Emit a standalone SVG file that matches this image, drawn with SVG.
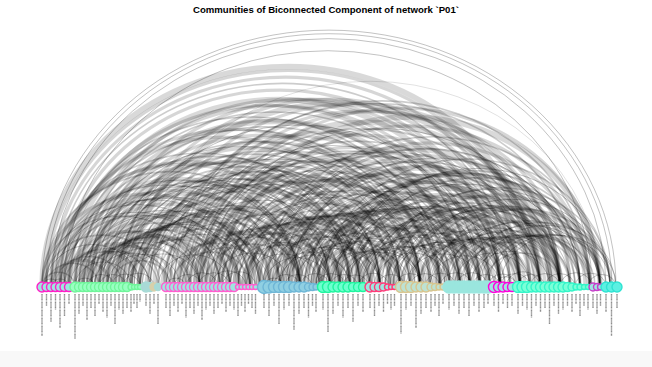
<svg xmlns="http://www.w3.org/2000/svg" width="652" height="367" viewBox="0 0 652 367">
<style>
text{font-family:"Liberation Sans",Arial,sans-serif}
.title{font-size:9.6px;font-weight:bold;fill:#000}
#arcs{fill:none;stroke:#000}
.t1{stroke-width:.8;stroke-opacity:.3}
.t2{stroke-width:1.6;stroke-opacity:.2}
.t3{stroke-width:3.2;stroke-opacity:.16}
.t4{stroke-width:5.5;stroke-opacity:.15}
#nodes path{fill:none;stroke:#8f8f8f;stroke-width:1.4;stroke-dasharray:1.2 .4}
#nodes circle{stroke-width:1.4}
.cA circle{fill:#9ee6e0;stroke:#ff1fc8}
.cB circle{fill:#99ffc2;stroke:#70f59a}
.cC circle{fill:#a8dad6;stroke:#a8dad6}
.cD circle{fill:#9ee6e0;stroke:#ff5fcf}
.cE circle{fill:#8fcfe2;stroke:#6eb6d6}
.cF circle{fill:#6dffcf;stroke:#1ff59e}
.cG circle{fill:#9ee6e0;stroke:#ff3a78}
.cH circle{fill:#bde2d2;stroke:#d8c58e}
.cI circle{fill:#9ae6de;stroke:#9ae6de}
.cJ circle{fill:#9ee6e0;stroke:#ff00dc}
.cK circle{fill:#7affd8;stroke:#33f5c8}
.cL circle{fill:#9ee6e0;stroke:#c83cc8}
.cM circle{fill:#5cf0e2;stroke:#2fe3d2}
</style>
<rect x="0" y="0" width="652" height="351" fill="#fff"/>
<rect x="0" y="351" width="652" height="16" fill="#f8f8f8"/>
<text class="title" x="326" y="12.5" text-anchor="middle">Communities of Biconnected Component of network `P01`</text>
<g id="arcs">
<g class="t1">
<path d="M42 287A1 .895 0 0 1 616 287"/><path d="M46 287A1 .895 0 0 1 612 287"/><path d="M51 287A1 .895 0 0 1 606 287"/><path d="M64 287A1 .895 0 0 1 592 287"/><path d="M140 287A1 .895 0 0 1 600 287" stroke-opacity=".15"/><path d="M99 287A1 .895 0 0 1 200 287"/><path d="M107 287A1 .895 0 0 1 180 287"/><path d="M230 287A1 .895 0 0 1 430 287"/><path d="M250 287A1 .895 0 0 1 380 287"/><path d="M308 287A1 .895 0 0 1 490 287"/><path d="M345 287A1 .895 0 0 1 610 287"/><path d="M75 287A1 .895 0 0 1 131 287"/><path d="M137 287A1 .895 0 0 1 312 287"/><path d="M264 287A1 .895 0 0 1 330 287"/><path d="M280 287A1 .895 0 0 1 369 287"/><path d="M296 287A1 .895 0 0 1 395 287"/><path d="M316 287A1 .895 0 0 1 420 287"/><path d="M330 287A1 .895 0 0 1 410 287"/><path d="M346 287A1 .895 0 0 1 433 287"/><path d="M362 287A1 .895 0 0 1 452 287"/><path d="M377 287A1 .895 0 0 1 470 287"/><path d="M393 287A1 .895 0 0 1 494 287"/><path d="M494 287A1 .895 0 0 1 611 287"/><path d="M500 287A1 .895 0 0 1 616 287"/><path d="M46 287A1 .895 0 0 1 230 287"/><path d="M64 287A1 .895 0 0 1 262 287"/><path d="M91 287A1 .895 0 0 1 330 287"/><path d="M123 287A1 .895 0 0 1 380 287"/><path d="M150 287A1 .895 0 0 1 420 287"/>
<path d="M42 287A1 .895 0 0 1 60 287"/><path d="M51 287A1 .895 0 0 1 69 287"/><path d="M75 287A1 .895 0 0 1 95 287"/><path d="M87 287A1 .895 0 0 1 115 287"/><path d="M99 287A1 .895 0 0 1 127 287"/><path d="M111 287A1 .895 0 0 1 140 287"/><path d="M123 287A1 .895 0 0 1 154 287"/><path d="M166 287A1 .895 0 0 1 186 287"/><path d="M174 287A1 .895 0 0 1 202 287"/><path d="M186 287A1 .895 0 0 1 218 287"/><path d="M198 287A1 .895 0 0 1 230 287"/><path d="M210 287A1 .895 0 0 1 246 287"/><path d="M222 287A1 .895 0 0 1 256 287"/><path d="M264 287A1 .895 0 0 1 284 287"/><path d="M272 287A1 .895 0 0 1 300 287"/><path d="M284 287A1 .895 0 0 1 312 287"/><path d="M300 287A1 .895 0 0 1 330 287"/><path d="M316 287A1 .895 0 0 1 346 287"/><path d="M330 287A1 .895 0 0 1 358 287"/><path d="M342 287A1 .895 0 0 1 369 287"/><path d="M358 287A1 .895 0 0 1 389 287"/><path d="M377 287A1 .895 0 0 1 405 287"/><path d="M395 287A1 .895 0 0 1 425 287"/><path d="M410 287A1 .895 0 0 1 440 287"/><path d="M425 287A1 .895 0 0 1 456 287"/><path d="M440 287A1 .895 0 0 1 472 287"/><path d="M456 287A1 .895 0 0 1 488 287"/><path d="M472 287A1 .895 0 0 1 500 287"/><path d="M488 287A1 .895 0 0 1 517 287"/><path d="M500 287A1 .895 0 0 1 530 287"/><path d="M517 287A1 .895 0 0 1 545 287"/><path d="M530 287A1 .895 0 0 1 560 287"/><path d="M545 287A1 .895 0 0 1 575 287"/><path d="M560 287A1 .895 0 0 1 592 287"/><path d="M575 287A1 .895 0 0 1 606 287"/><path d="M588 287A1 .895 0 0 1 616 287"/><path d="M494 287A1 .895 0 0 1 517 287"/><path d="M506 287A1 .895 0 0 1 540 287"/>
<path d="M45 287A1 .895 0 0 1 140 287"/><path d="M53 287A1 .895 0 0 1 220 287"/><path d="M61 287A1 .895 0 0 1 300 287"/><path d="M70 287A1 .895 0 0 1 150 287"/><path d="M78 287A1 .895 0 0 1 240 287"/><path d="M86 287A1 .895 0 0 1 400 287"/><path d="M94 287A1 .895 0 0 1 170 287"/><path d="M102 287A1 .895 0 0 1 330 287"/><path d="M110 287A1 .895 0 0 1 250 287"/><path d="M118 287A1 .895 0 0 1 480 287"/><path d="M126 287A1 .895 0 0 1 200 287"/><path d="M134 287A1 .895 0 0 1 420 287"/><path d="M142 287A1 .895 0 0 1 260 287"/><path d="M150 287A1 .895 0 0 1 380 287"/><path d="M158 287A1 .895 0 0 1 230 287"/><path d="M166 287A1 .895 0 0 1 360 287"/><path d="M174 287A1 .895 0 0 1 490 287"/><path d="M182 287A1 .895 0 0 1 270 287"/><path d="M190 287A1 .895 0 0 1 450 287"/><path d="M198 287A1 .895 0 0 1 310 287"/><path d="M206 287A1 .895 0 0 1 560 287"/><path d="M214 287A1 .895 0 0 1 290 287"/><path d="M222 287A1 .895 0 0 1 410 287"/><path d="M230 287A1 .895 0 0 1 330 287"/><path d="M238 287A1 .895 0 0 1 540 287"/><path d="M246 287A1 .895 0 0 1 320 287"/><path d="M254 287A1 .895 0 0 1 460 287"/><path d="M262 287A1 .895 0 0 1 370 287"/><path d="M270 287A1 .895 0 0 1 580 287"/><path d="M278 287A1 .895 0 0 1 350 287"/><path d="M286 287A1 .895 0 0 1 500 287"/><path d="M294 287A1 .895 0 0 1 380 287"/><path d="M310 287A1 .895 0 0 1 420 287"/><path d="M318 287A1 .895 0 0 1 550 287"/><path d="M326 287A1 .895 0 0 1 440 287"/><path d="M334 287A1 .895 0 0 1 510 287"/><path d="M342 287A1 .895 0 0 1 420 287"/><path d="M350 287A1 .895 0 0 1 580 287"/><path d="M358 287A1 .895 0 0 1 470 287"/><path d="M366 287A1 .895 0 0 1 540 287"/><path d="M374 287A1 .895 0 0 1 450 287"/><path d="M382 287A1 .895 0 0 1 600 287"/><path d="M390 287A1 .895 0 0 1 490 287"/><path d="M398 287A1 .895 0 0 1 570 287"/><path d="M406 287A1 .895 0 0 1 480 287"/><path d="M414 287A1 .895 0 0 1 610 287"/><path d="M422 287A1 .895 0 0 1 530 287"/><path d="M430 287A1 .895 0 0 1 500 287"/><path d="M438 287A1 .895 0 0 1 560 287"/><path d="M446 287A1 .895 0 0 1 590 287"/><path d="M454 287A1 .895 0 0 1 530 287"/><path d="M462 287A1 .895 0 0 1 600 287"/><path d="M470 287A1 .895 0 0 1 550 287"/><path d="M478 287A1 .895 0 0 1 616 287"/>
</g>
<g class="t2">
<path d="M55 287A1 .895 0 0 1 510 287"/><path d="M79 287A1 .895 0 0 1 470 287"/><path d="M87 287A1 .895 0 0 1 445 287"/><path d="M95 287A1 .895 0 0 1 420 287"/><path d="M103 287A1 .895 0 0 1 400 287"/><path d="M111 287A1 .895 0 0 1 380 287"/><path d="M119 287A1 .895 0 0 1 360 287"/><path d="M127 287A1 .895 0 0 1 340 287"/><path d="M69 287A1 .895 0 0 1 420 287"/><path d="M60 287A1 .895 0 0 1 440 287"/><path d="M51 287A1 .895 0 0 1 350 287"/><path d="M42 287A1 .895 0 0 1 300 287"/><path d="M69 287A1 .895 0 0 1 270 287"/><path d="M79 287A1 .895 0 0 1 250 287"/><path d="M87 287A1 .895 0 0 1 230 287"/><path d="M91 287A1 .895 0 0 1 220 287"/><path d="M103 287A1 .895 0 0 1 190 287"/><path d="M111 287A1 .895 0 0 1 170 287"/><path d="M170 287A1 .895 0 0 1 580 287"/><path d="M174 287A1 .895 0 0 1 590 287"/><path d="M186 287A1 .895 0 0 1 540 287"/><path d="M194 287A1 .895 0 0 1 520 287"/><path d="M202 287A1 .895 0 0 1 500 287"/><path d="M210 287A1 .895 0 0 1 480 287"/><path d="M218 287A1 .895 0 0 1 460 287"/><path d="M226 287A1 .895 0 0 1 440 287"/><path d="M238 287A1 .895 0 0 1 410 287"/><path d="M242 287A1 .895 0 0 1 400 287"/><path d="M264 287A1 .895 0 0 1 600 287"/><path d="M272 287A1 .895 0 0 1 580 287"/><path d="M280 287A1 .895 0 0 1 560 287"/><path d="M288 287A1 .895 0 0 1 540 287"/><path d="M296 287A1 .895 0 0 1 520 287"/><path d="M304 287A1 .895 0 0 1 500 287"/><path d="M316 287A1 .895 0 0 1 470 287"/><path d="M326 287A1 .895 0 0 1 575 287"/><path d="M342 287A1 .895 0 0 1 535 287"/><path d="M354 287A1 .895 0 0 1 505 287"/><path d="M362 287A1 .895 0 0 1 485 287"/><path d="M340 287A1 .895 0 0 1 600 287"/><path d="M335 287A1 .895 0 0 1 590 287"/>
<path d="M42 287A1 .895 0 0 1 75 287"/><path d="M46 287A1 .895 0 0 1 99 287"/><path d="M55 287A1 .895 0 0 1 123 287"/><path d="M64 287A1 .895 0 0 1 150 287"/><path d="M79 287A1 .895 0 0 1 158 287"/><path d="M87 287A1 .895 0 0 1 186 287"/><path d="M95 287A1 .895 0 0 1 206 287"/><path d="M103 287A1 .895 0 0 1 230 287"/><path d="M111 287A1 .895 0 0 1 246 287"/><path d="M119 287A1 .895 0 0 1 264 287"/><path d="M127 287A1 .895 0 0 1 284 287"/><path d="M134 287A1 .895 0 0 1 304 287"/><path d="M140 287A1 .895 0 0 1 322 287"/><path d="M166 287A1 .895 0 0 1 264 287"/><path d="M182 287A1 .895 0 0 1 300 287"/><path d="M198 287A1 .895 0 0 1 330 287"/><path d="M214 287A1 .895 0 0 1 354 287"/><path d="M230 287A1 .895 0 0 1 375 287"/><path d="M238 287A1 .895 0 0 1 390 287"/><path d="M256 287A1 .895 0 0 1 415 287"/><path d="M272 287A1 .895 0 0 1 437 287"/><path d="M288 287A1 .895 0 0 1 458 287"/><path d="M304 287A1 .895 0 0 1 478 287"/><path d="M272 287A1 .895 0 0 1 350 287"/><path d="M288 287A1 .895 0 0 1 380 287"/><path d="M304 287A1 .895 0 0 1 405 287"/><path d="M322 287A1 .895 0 0 1 400 287"/><path d="M338 287A1 .895 0 0 1 422 287"/><path d="M354 287A1 .895 0 0 1 445 287"/><path d="M369 287A1 .895 0 0 1 460 287"/><path d="M385 287A1 .895 0 0 1 480 287"/><path d="M400 287A1 .895 0 0 1 505 287"/><path d="M410 287A1 .895 0 0 1 517 287"/><path d="M430 287A1 .895 0 0 1 540 287"/><path d="M448 287A1 .895 0 0 1 560 287"/><path d="M464 287A1 .895 0 0 1 580 287"/><path d="M480 287A1 .895 0 0 1 595 287"/><path d="M488 287A1 .895 0 0 1 606 287"/><path d="M369 287A1 .895 0 0 1 540 287"/><path d="M385 287A1 .895 0 0 1 563 287"/><path d="M393 287A1 .895 0 0 1 575 287"/><path d="M42 287A1 .895 0 0 1 200 287"/><path d="M55 287A1 .895 0 0 1 250 287"/><path d="M75 287A1 .895 0 0 1 300 287"/><path d="M107 287A1 .895 0 0 1 350 287"/><path d="M140 287A1 .895 0 0 1 400 287"/><path d="M158 287A1 .895 0 0 1 440 287"/>
<path d="M44 287A1 .895 0 0 1 160 287"/><path d="M52 287A1 .895 0 0 1 280 287"/><path d="M60 287A1 .895 0 0 1 220 287"/><path d="M68 287A1 .895 0 0 1 360 287"/><path d="M76 287A1 .895 0 0 1 200 287"/><path d="M84 287A1 .895 0 0 1 320 287"/><path d="M92 287A1 .895 0 0 1 260 287"/><path d="M100 287A1 .895 0 0 1 380 287"/><path d="M108 287A1 .895 0 0 1 280 287"/><path d="M116 287A1 .895 0 0 1 420 287"/><path d="M124 287A1 .895 0 0 1 230 287"/><path d="M132 287A1 .895 0 0 1 360 287"/><path d="M140 287A1 .895 0 0 1 270 287"/><path d="M148 287A1 .895 0 0 1 450 287"/><path d="M156 287A1 .895 0 0 1 300 287"/><path d="M164 287A1 .895 0 0 1 400 287"/><path d="M172 287A1 .895 0 0 1 250 287"/><path d="M180 287A1 .895 0 0 1 460 287"/><path d="M188 287A1 .895 0 0 1 350 287"/><path d="M196 287A1 .895 0 0 1 500 287"/><path d="M204 287A1 .895 0 0 1 300 287"/><path d="M212 287A1 .895 0 0 1 420 287"/><path d="M220 287A1 .895 0 0 1 340 287"/><path d="M228 287A1 .895 0 0 1 520 287"/><path d="M236 287A1 .895 0 0 1 330 287"/><path d="M244 287A1 .895 0 0 1 460 287"/><path d="M252 287A1 .895 0 0 1 370 287"/><path d="M260 287A1 .895 0 0 1 540 287"/><path d="M268 287A1 .895 0 0 1 380 287"/><path d="M276 287A1 .895 0 0 1 490 287"/><path d="M284 287A1 .895 0 0 1 400 287"/><path d="M292 287A1 .895 0 0 1 580 287"/><path d="M300 287A1 .895 0 0 1 420 287"/><path d="M308 287A1 .895 0 0 1 560 287"/><path d="M316 287A1 .895 0 0 1 450 287"/><path d="M324 287A1 .895 0 0 1 610 287"/><path d="M332 287A1 .895 0 0 1 470 287"/><path d="M340 287A1 .895 0 0 1 520 287"/><path d="M348 287A1 .895 0 0 1 450 287"/><path d="M356 287A1 .895 0 0 1 600 287"/><path d="M364 287A1 .895 0 0 1 480 287"/><path d="M372 287A1 .895 0 0 1 560 287"/><path d="M380 287A1 .895 0 0 1 500 287"/><path d="M388 287A1 .895 0 0 1 610 287"/><path d="M396 287A1 .895 0 0 1 520 287"/><path d="M404 287A1 .895 0 0 1 580 287"/><path d="M412 287A1 .895 0 0 1 540 287"/><path d="M420 287A1 .895 0 0 1 600 287"/><path d="M428 287A1 .895 0 0 1 560 287"/><path d="M436 287A1 .895 0 0 1 610 287"/><path d="M444 287A1 .895 0 0 1 570 287"/><path d="M452 287A1 .895 0 0 1 600 287"/><path d="M460 287A1 .895 0 0 1 560 287"/><path d="M468 287A1 .895 0 0 1 612 287"/><path d="M476 287A1 .895 0 0 1 590 287"/><path d="M484 287A1 .895 0 0 1 560 287"/>
</g>
<g class="t3">
<path d="M46 287A1 .895 0 0 1 530 287"/><path d="M51 287A1 .895 0 0 1 520 287"/><path d="M60 287A1 .895 0 0 1 500 287"/><path d="M75 287A1 .895 0 0 1 480 287"/><path d="M83 287A1 .895 0 0 1 455 287"/><path d="M91 287A1 .895 0 0 1 430 287"/><path d="M99 287A1 .895 0 0 1 410 287"/><path d="M107 287A1 .895 0 0 1 392 287"/><path d="M123 287A1 .895 0 0 1 350 287"/><path d="M131 287A1 .895 0 0 1 330 287"/><path d="M64 287A1 .895 0 0 1 470 287"/><path d="M55 287A1 .895 0 0 1 390 287"/><path d="M46 287A1 .895 0 0 1 320 287"/><path d="M64 287A1 .895 0 0 1 280 287"/><path d="M75 287A1 .895 0 0 1 260 287"/><path d="M83 287A1 .895 0 0 1 240 287"/><path d="M95 287A1 .895 0 0 1 210 287"/><path d="M166 287A1 .895 0 0 1 560 287"/><path d="M178 287A1 .895 0 0 1 570 287"/><path d="M190 287A1 .895 0 0 1 530 287"/><path d="M198 287A1 .895 0 0 1 510 287"/><path d="M206 287A1 .895 0 0 1 490 287"/><path d="M214 287A1 .895 0 0 1 470 287"/><path d="M222 287A1 .895 0 0 1 450 287"/><path d="M234 287A1 .895 0 0 1 420 287"/><path d="M246 287A1 .895 0 0 1 390 287"/><path d="M268 287A1 .895 0 0 1 590 287"/><path d="M276 287A1 .895 0 0 1 570 287"/><path d="M292 287A1 .895 0 0 1 530 287"/><path d="M300 287A1 .895 0 0 1 510 287"/><path d="M312 287A1 .895 0 0 1 480 287"/><path d="M322 287A1 .895 0 0 1 560 287"/><path d="M330 287A1 .895 0 0 1 585 287"/><path d="M338 287A1 .895 0 0 1 545 287"/><path d="M346 287A1 .895 0 0 1 525 287"/><path d="M350 287A1 .895 0 0 1 515 287"/><path d="M358 287A1 .895 0 0 1 495 287"/>
<path d="M51 287A1 .895 0 0 1 111 287"/><path d="M60 287A1 .895 0 0 1 140 287"/><path d="M69 287A1 .895 0 0 1 166 287"/><path d="M83 287A1 .895 0 0 1 174 287"/><path d="M91 287A1 .895 0 0 1 198 287"/><path d="M99 287A1 .895 0 0 1 214 287"/><path d="M107 287A1 .895 0 0 1 238 287"/><path d="M115 287A1 .895 0 0 1 256 287"/><path d="M123 287A1 .895 0 0 1 272 287"/><path d="M131 287A1 .895 0 0 1 296 287"/><path d="M174 287A1 .895 0 0 1 280 287"/><path d="M190 287A1 .895 0 0 1 316 287"/><path d="M206 287A1 .895 0 0 1 342 287"/><path d="M222 287A1 .895 0 0 1 364 287"/><path d="M246 287A1 .895 0 0 1 402 287"/><path d="M264 287A1 .895 0 0 1 425 287"/><path d="M280 287A1 .895 0 0 1 448 287"/><path d="M296 287A1 .895 0 0 1 468 287"/><path d="M312 287A1 .895 0 0 1 488 287"/><path d="M420 287A1 .895 0 0 1 530 287"/><path d="M440 287A1 .895 0 0 1 550 287"/><path d="M456 287A1 .895 0 0 1 570 287"/><path d="M472 287A1 .895 0 0 1 588 287"/><path d="M377 287A1 .895 0 0 1 552 287"/>
<path d="M42 287A1 .895 0 0 1 250 287"/><path d="M50 287A1 .895 0 0 1 330 287"/><path d="M58 287A1 .895 0 0 1 410 287"/><path d="M66 287A1 .895 0 0 1 190 287"/><path d="M74 287A1 .895 0 0 1 350 287"/><path d="M82 287A1 .895 0 0 1 290 287"/><path d="M90 287A1 .895 0 0 1 370 287"/><path d="M98 287A1 .895 0 0 1 260 287"/><path d="M106 287A1 .895 0 0 1 430 287"/><path d="M114 287A1 .895 0 0 1 300 287"/><path d="M122 287A1 .895 0 0 1 460 287"/><path d="M130 287A1 .895 0 0 1 240 287"/><path d="M138 287A1 .895 0 0 1 380 287"/><path d="M146 287A1 .895 0 0 1 320 287"/><path d="M154 287A1 .895 0 0 1 500 287"/><path d="M162 287A1 .895 0 0 1 340 287"/><path d="M170 287A1 .895 0 0 1 420 287"/><path d="M178 287A1 .895 0 0 1 300 287"/><path d="M186 287A1 .895 0 0 1 470 287"/><path d="M194 287A1 .895 0 0 1 360 287"/><path d="M202 287A1 .895 0 0 1 440 287"/><path d="M210 287A1 .895 0 0 1 330 287"/><path d="M218 287A1 .895 0 0 1 520 287"/><path d="M226 287A1 .895 0 0 1 380 287"/><path d="M234 287A1 .895 0 0 1 480 287"/><path d="M242 287A1 .895 0 0 1 340 287"/><path d="M250 287A1 .895 0 0 1 500 287"/><path d="M258 287A1 .895 0 0 1 420 287"/><path d="M266 287A1 .895 0 0 1 520 287"/><path d="M274 287A1 .895 0 0 1 400 287"/><path d="M282 287A1 .895 0 0 1 470 287"/><path d="M290 287A1 .895 0 0 1 560 287"/><path d="M298 287A1 .895 0 0 1 440 287"/><path d="M306 287A1 .895 0 0 1 540 287"/><path d="M314 287A1 .895 0 0 1 400 287"/><path d="M322 287A1 .895 0 0 1 500 287"/><path d="M330 287A1 .895 0 0 1 460 287"/><path d="M338 287A1 .895 0 0 1 590 287"/><path d="M346 287A1 .895 0 0 1 480 287"/><path d="M354 287A1 .895 0 0 1 560 287"/><path d="M362 287A1 .895 0 0 1 520 287"/><path d="M370 287A1 .895 0 0 1 500 287"/><path d="M378 287A1 .895 0 0 1 580 287"/><path d="M386 287A1 .895 0 0 1 540 287"/><path d="M394 287A1 .895 0 0 1 600 287"/><path d="M402 287A1 .895 0 0 1 560 287"/><path d="M410 287A1 .895 0 0 1 590 287"/><path d="M418 287A1 .895 0 0 1 520 287"/><path d="M426 287A1 .895 0 0 1 600 287"/><path d="M434 287A1 .895 0 0 1 580 287"/>
<path d="M100 287A1 .895 0 0 1 520 287"/><path d="M150 287A1 .895 0 0 1 560 287"/><path d="M80 287A1 .895 0 0 1 500 287"/><path d="M200 287A1 .895 0 0 1 600 287"/><path d="M120 287A1 .895 0 0 1 540 287"/><path d="M230 287A1 .895 0 0 1 590 287"/>
</g>
<g class="t4">
<path d="M42 287A1 .895 0 0 1 535 287"/><path d="M69 287A1 .895 0 0 1 488 287"/><path d="M115 287A1 .895 0 0 1 370 287"/><path d="M182 287A1 .895 0 0 1 550 287"/><path d="M284 287A1 .895 0 0 1 550 287"/><path d="M334 287A1 .895 0 0 1 555 287"/><path d="M60 287A1 .895 0 0 1 300 287"/><path d="M200 287A1 .895 0 0 1 440 287"/><path d="M250 287A1 .895 0 0 1 560 287"/><path d="M90 287A1 .895 0 0 1 460 287"/><path d="M320 287A1 .895 0 0 1 520 287"/><path d="M140 287A1 .895 0 0 1 360 287"/><path d="M130 287A1 .895 0 0 1 540 287"/><path d="M220 287A1 .895 0 0 1 600 287"/>
</g>
</g>
<g id="nodes">
<g class="cA">
<g id="n1"><circle cx="42" cy="287" r="5"/><path d="M42 294v42"/></g>
<g id="n2"><circle cx="46.5" cy="287" r="4.5"/><path d="M46.5 294v12"/></g>
<g id="n3"><circle cx="51" cy="287" r="4.5"/><path d="M51 294v28"/></g>
<g id="n4"><circle cx="55.5" cy="287" r="4.5"/><path d="M55.5 294v16"/></g>
<g id="n5"><circle cx="60" cy="287" r="4.5"/><path d="M60 294v34"/></g>
<g id="n6"><circle cx="64.5" cy="287" r="4.5"/><path d="M64.5 294v22"/></g>
<g id="n7"><circle cx="69" cy="287" r="4.5"/><path d="M69 294v10"/></g>
</g>
<g class="cB">
<g id="n8"><circle cx="75" cy="287" r="5"/><path d="M75 294v45"/></g>
<g id="n9"><circle cx="79" cy="287" r="4.5"/><path d="M79 294v20"/></g>
<g id="n10"><circle cx="83" cy="287" r="4.5"/><path d="M83 294v12"/></g>
<g id="n11"><circle cx="87" cy="287" r="4.5"/><path d="M87 294v26"/></g>
<g id="n12"><circle cx="91" cy="287" r="4.5"/><path d="M91 294v14"/></g>
<g id="n13"><circle cx="95" cy="287" r="4.5"/><path d="M95 294v22"/></g>
<g id="n14"><circle cx="99" cy="287" r="4.5"/><path d="M99 294v10"/></g>
<g id="n15"><circle cx="103" cy="287" r="4.5"/><path d="M103 294v18"/></g>
<g id="n16"><circle cx="107" cy="287" r="4.5"/><path d="M107 294v24"/></g>
<g id="n17"><circle cx="111" cy="287" r="4.5"/><path d="M111 294v12"/></g>
<g id="n18"><circle cx="115" cy="287" r="4.5"/><path d="M115 294v30"/></g>
<g id="n19"><circle cx="119" cy="287" r="4.5"/><path d="M119 294v16"/></g>
<g id="n20"><circle cx="123" cy="287" r="4.5"/><path d="M123 294v20"/></g>
<g id="n21"><circle cx="127" cy="287" r="4.5"/><path d="M127 294v14"/></g>
<g id="n22"><circle cx="131" cy="287" r="3"/><path d="M131 294v18"/></g>
<g id="n23"><circle cx="134" cy="287" r="2.5"/><path d="M134 294v10"/></g>
<g id="n24"><circle cx="137" cy="287" r="2.5"/><path d="M137 294v14"/></g>
<g id="n25"><circle cx="140" cy="287" r="2.5"/><path d="M140 294v8"/></g>
</g>
<g class="cC">
<g id="n26"><circle cx="146" cy="287" r="5"/><path d="M146 294v12"/></g>
<g id="n27"><circle cx="150" cy="287" r="4.5"/><path d="M150 294v20"/></g>
<g id="n28"><circle cx="154" cy="287" r="4" style="fill:#d8d0aa;stroke:#d8d0aa"/><path d="M154 294v10"/></g>
<g id="n29"><circle cx="158" cy="287" r="3.5"/><path d="M158 294v30"/></g>
</g>
<g class="cD">
<g id="n30"><circle cx="166" cy="287" r="4.5"/><path d="M166 294v14"/></g>
<g id="n31"><circle cx="170" cy="287" r="4.5"/><path d="M170 294v22"/></g>
<g id="n32"><circle cx="174" cy="287" r="4.5"/><path d="M174 294v12"/></g>
<g id="n33"><circle cx="178" cy="287" r="4.5"/><path d="M178 294v18"/></g>
<g id="n34"><circle cx="182" cy="287" r="4.5"/><path d="M182 294v10"/></g>
<g id="n35"><circle cx="186" cy="287" r="4.5"/><path d="M186 294v24"/></g>
<g id="n36"><circle cx="190" cy="287" r="4.5"/><path d="M190 294v14"/></g>
<g id="n37"><circle cx="194" cy="287" r="4.5"/><path d="M194 294v20"/></g>
<g id="n38"><circle cx="198" cy="287" r="4.5"/><path d="M198 294v12"/></g>
<g id="n39"><circle cx="202" cy="287" r="4.5"/><path d="M202 294v26"/></g>
<g id="n40"><circle cx="206" cy="287" r="4.5"/><path d="M206 294v16"/></g>
<g id="n41"><circle cx="210" cy="287" r="4.5"/><path d="M210 294v12"/></g>
<g id="n42"><circle cx="214" cy="287" r="4.5"/><path d="M214 294v20"/></g>
<g id="n43"><circle cx="218" cy="287" r="4.5"/><path d="M218 294v14"/></g>
<g id="n44"><circle cx="222" cy="287" r="4.5"/><path d="M222 294v10"/></g>
<g id="n45"><circle cx="226" cy="287" r="4.5"/><path d="M226 294v18"/></g>
<g id="n46"><circle cx="230" cy="287" r="4.5"/><path d="M230 294v12"/></g>
<g id="n47"><circle cx="234" cy="287" r="4.5"/><path d="M234 294v16"/></g>
<g id="n48"><circle cx="238" cy="287" r="2.5"/><path d="M238 294v22"/></g>
<g id="n49"><circle cx="241.5" cy="287" r="2.5"/><path d="M241.5 294v12"/></g>
<g id="n50"><circle cx="245" cy="287" r="2.5"/><path d="M245 294v18"/></g>
<g id="n51"><circle cx="248.5" cy="287" r="2.5"/><path d="M248.5 294v10"/></g>
<g id="n52"><circle cx="252" cy="287" r="2.5"/><path d="M252 294v14"/></g>
<g id="n53"><circle cx="255.5" cy="287" r="2.5"/><path d="M255.5 294v20"/></g>
</g>
<g class="cE">
<g id="n54"><circle cx="264" cy="287" r="6.5"/><path d="M264 294v14"/></g>
<g id="n55"><circle cx="269" cy="287" r="6"/><path d="M269 294v22"/></g>
<g id="n56"><circle cx="274" cy="287" r="5.5"/><path d="M274 294v12"/></g>
<g id="n57"><circle cx="279" cy="287" r="5.5"/><path d="M279 294v30"/></g>
<g id="n58"><circle cx="284" cy="287" r="5.5"/><path d="M284 294v16"/></g>
<g id="n59"><circle cx="289" cy="287" r="5.5"/><path d="M289 294v12"/></g>
<g id="n60"><circle cx="294" cy="287" r="5"/><path d="M294 294v36"/></g>
<g id="n61"><circle cx="299" cy="287" r="5"/><path d="M299 294v20"/></g>
<g id="n62"><circle cx="304" cy="287" r="5"/><path d="M304 294v14"/></g>
<g id="n63"><circle cx="308.5" cy="287" r="4"/><path d="M308.5 294v24"/></g>
<g id="n64"><circle cx="312.5" cy="287" r="3.5"/><path d="M312.5 294v12"/></g>
<g id="n65"><circle cx="316" cy="287" r="3"/><path d="M316 294v18"/></g>
</g>
<g class="cF">
<g id="n66"><circle cx="323" cy="287" r="5.5"/><path d="M323 294v16"/></g>
<g id="n67"><circle cx="328" cy="287" r="5.5"/><path d="M328 294v38"/></g>
<g id="n68"><circle cx="333" cy="287" r="5"/><path d="M333 294v20"/></g>
<g id="n69"><circle cx="338" cy="287" r="5"/><path d="M338 294v12"/></g>
<g id="n70"><circle cx="343" cy="287" r="5"/><path d="M343 294v24"/></g>
<g id="n71"><circle cx="348" cy="287" r="5"/><path d="M348 294v14"/></g>
<g id="n72"><circle cx="353" cy="287" r="4.5"/><path d="M353 294v28"/></g>
<g id="n73"><circle cx="358" cy="287" r="4.5"/><path d="M358 294v12"/></g>
<g id="n74"><circle cx="363" cy="287" r="4.5"/><path d="M363 294v18"/></g>
</g>
<g class="cG">
<g id="n75"><circle cx="370" cy="287" r="5"/><path d="M370 294v14"/></g>
<g id="n76"><circle cx="374.5" cy="287" r="4.5"/><path d="M374.5 294v22"/></g>
<g id="n77"><circle cx="379" cy="287" r="4.5"/><path d="M379 294v12"/></g>
<g id="n78"><circle cx="383.5" cy="287" r="4"/><path d="M383.5 294v18"/></g>
<g id="n79"><circle cx="387.5" cy="287" r="3"/><path d="M387.5 294v10"/></g>
<g id="n80"><circle cx="391" cy="287" r="2.5"/><path d="M391 294v16"/></g>
<g id="n81"><circle cx="394.5" cy="287" r="2.5"/><path d="M394.5 294v12"/></g>
</g>
<g class="cH">
<g id="n82"><circle cx="401" cy="287" r="5.5"/><path d="M401 294v40"/></g>
<g id="n83"><circle cx="406" cy="287" r="5.5"/><path d="M406 294v16"/></g>
<g id="n84"><circle cx="411" cy="287" r="5.5"/><path d="M411 294v12"/></g>
<g id="n85"><circle cx="416" cy="287" r="5"/><path d="M416 294v34"/></g>
<g id="n86"><circle cx="421" cy="287" r="5"/><path d="M421 294v20"/></g>
<g id="n87"><circle cx="426" cy="287" r="5"/><path d="M426 294v14"/></g>
<g id="n88"><circle cx="431" cy="287" r="4"/><path d="M431 294v18"/></g>
<g id="n89"><circle cx="435" cy="287" r="3.5"/><path d="M435 294v12"/></g>
<g id="n90"><circle cx="439" cy="287" r="3"/><path d="M439 294v22"/></g>
<g id="n91"><circle cx="443" cy="287" r="3"/><path d="M443 294v10"/></g>
</g>
<g class="cI">
<g id="n92"><circle cx="449" cy="287" r="6"/><path d="M449 294v16"/></g>
<g id="n93"><circle cx="454" cy="287" r="6"/><path d="M454 294v12"/></g>
<g id="n94"><circle cx="459" cy="287" r="6"/><path d="M459 294v20"/></g>
<g id="n95"><circle cx="464" cy="287" r="6"/><path d="M464 294v14"/></g>
<g id="n96"><circle cx="469" cy="287" r="6"/><path d="M469 294v22"/></g>
<g id="n97"><circle cx="474" cy="287" r="6"/><path d="M474 294v12"/></g>
<g id="n98"><circle cx="479" cy="287" r="6"/><path d="M479 294v18"/></g>
<g id="n99"><circle cx="484" cy="287" r="6"/><path d="M484 294v14"/></g>
<g id="n100"><circle cx="488" cy="287" r="6"/><path d="M488 294v10"/></g>
</g>
<g class="cJ">
<g id="n101"><circle cx="494" cy="287" r="5.5"/><path d="M494 294v12"/></g>
<g id="n102"><circle cx="498.5" cy="287" r="5"/><path d="M498.5 294v18"/></g>
<g id="n103"><circle cx="503" cy="287" r="5"/><path d="M503 294v10"/></g>
<g id="n104"><circle cx="507.5" cy="287" r="4.5"/><path d="M507.5 294v14"/></g>
<g id="n105"><circle cx="512" cy="287" r="4.5"/><path d="M512 294v12"/></g>
</g>
<g class="cK">
<g id="n106"><circle cx="518" cy="287" r="5.5"/><path d="M518 294v20"/></g>
<g id="n107"><circle cx="522.5" cy="287" r="5.5"/><path d="M522.5 294v12"/></g>
<g id="n108"><circle cx="527" cy="287" r="5.5"/><path d="M527 294v16"/></g>
<g id="n109"><circle cx="531.5" cy="287" r="5"/><path d="M531.5 294v24"/></g>
<g id="n110"><circle cx="536" cy="287" r="5"/><path d="M536 294v12"/></g>
<g id="n111"><circle cx="540.5" cy="287" r="5"/><path d="M540.5 294v18"/></g>
<g id="n112"><circle cx="545" cy="287" r="5"/><path d="M545 294v14"/></g>
<g id="n113"><circle cx="549.5" cy="287" r="5"/><path d="M549.5 294v30"/></g>
<g id="n114"><circle cx="554" cy="287" r="5"/><path d="M554 294v12"/></g>
<g id="n115"><circle cx="558.5" cy="287" r="5"/><path d="M558.5 294v20"/></g>
<g id="n116"><circle cx="563" cy="287" r="5"/><path d="M563 294v16"/></g>
<g id="n117"><circle cx="567.5" cy="287" r="4.5"/><path d="M567.5 294v12"/></g>
<g id="n118"><circle cx="572" cy="287" r="4"/><path d="M572 294v18"/></g>
<g id="n119"><circle cx="576" cy="287" r="3"/><path d="M576 294v10"/></g>
<g id="n120"><circle cx="580" cy="287" r="3"/><path d="M580 294v22"/></g>
<g id="n121"><circle cx="584" cy="287" r="2.5"/><path d="M584 294v12"/></g>
<g id="n122"><circle cx="588" cy="287" r="2.5"/><path d="M588 294v16"/></g>
</g>
<g class="cL">
<g id="n123"><circle cx="593" cy="287" r="4"/><path d="M593 294v14"/></g>
<g id="n124"><circle cx="597" cy="287" r="3.5"/><path d="M597 294v20"/></g>
<g id="n125"><circle cx="600.5" cy="287" r="3"/><path d="M600.5 294v12"/></g>
</g>
<g class="cM">
<g id="n126"><circle cx="606" cy="287" r="5"/><path d="M606 294v18"/></g>
<g id="n127"><circle cx="611.5" cy="287" r="5"/><path d="M611.5 294v42"/></g>
<g id="n128"><circle cx="617" cy="287" r="5"/><path d="M617 294v14"/></g>
</g>
</g>
</svg>
